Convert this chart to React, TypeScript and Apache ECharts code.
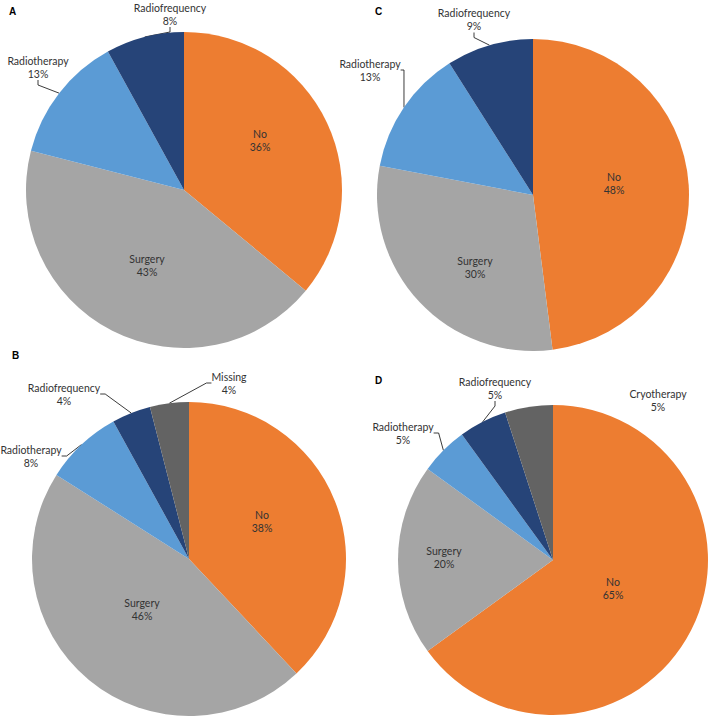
import { useEffect, useRef } from "react";
import * as echarts from "echarts";

// ---- Data (percentages) ----
const categoriesA = ["No", "Surgery", "Radiotherapy", "Radiofrequency"];
const valuesA = [36, 43, 13, 8];

const categoriesB = ["No", "Surgery", "Radiotherapy", "Radiofrequency", "Missing"];
const valuesB = [38, 46, 8, 4, 4];

const categoriesC = ["No", "Surgery", "Radiotherapy", "Radiofrequency"];
const valuesC = [48, 30, 13, 9];

const categoriesD = ["No", "Surgery", "Radiotherapy", "Radiofrequency", "Cryotherapy"];
const valuesD = [65, 20, 5, 5, 5];

const insideCategories = ["No", "Surgery"];

// ---- Styling / layout ----
const sliceColors: Record<string, string> = {
  No: "#ED7D31",
  Surgery: "#A5A5A5",
  Radiotherapy: "#5B9BD5",
  Radiofrequency: "#264478",
  Missing: "#636363",
  Cryotherapy: "#636363",
};

type Panel = {
  letter: string;
  cats: string[];
  vals: number[];
  center: [number, number];
  radius: number;
  letterPos: [number, number];
  labelPos: [number, number][];
  hideLine: string[];
};

const panels: Panel[] = [
  {
    letter: "A",
    cats: categoriesA,
    vals: valuesA,
    center: [184, 190],
    radius: 158,
    letterPos: [9, 12],
    labelPos: [[260, 140], [147, 265], [38, 67], [170, 14]],
    hideLine: [],
  },
  {
    letter: "C",
    cats: categoriesC,
    vals: valuesC,
    center: [533, 195],
    radius: 156,
    letterPos: [375, 12],
    labelPos: [[614, 183], [475, 267], [370, 70], [474, 19.5]],
    hideLine: [],
  },
  {
    letter: "B",
    cats: categoriesB,
    vals: valuesB,
    center: [189, 559],
    radius: 157,
    letterPos: [12, 356],
    labelPos: [[262, 521], [142, 609], [31, 456], [64, 394], [229, 383]],
    hideLine: [],
  },
  {
    letter: "D",
    cats: categoriesD,
    vals: valuesD,
    center: [553, 560],
    radius: 155,
    letterPos: [375, 381],
    labelPos: [[613, 588], [444, 557], [403, 433], [495, 388], [658, 400]],
    hideLine: ["Cryotherapy"],
  },
];

const FONT = "Lato, 'Open Sans', sans-serif";

function buildSeries(p: Panel) {
  return {
    type: "pie",
    name: p.letter,
    center: p.center,
    radius: p.radius,
    startAngle: 90,
    clockwise: true,
    avoidLabelOverlap: false,
    silent: true,
    percentPrecision: 0,
    itemStyle: { borderWidth: 0 },
    label: {
      show: true,
      position: "outside",
      formatter: "{b}\n{d}%",
      fontFamily: FONT,
      fontSize: 10.5,
      lineHeight: 13,
      color: "#333333",
    },
    labelLine: {
      show: true,
      length: 8,
      length2: 5,
      smooth: false,
      lineStyle: { color: "#262626", width: 0.9 },
    },
    labelLayout: (params: any) => {
      const pos = p.labelPos[params.dataIndex];
      return { x: pos[0], y: pos[1], align: "center", verticalAlign: "middle" };
    },
    data: p.cats.map((c, i) => {
      const inside = insideCategories.includes(c);
      return {
        name: c,
        value: p.vals[i],
        itemStyle: { color: sliceColors[c] },
        label: inside ? { position: "inside" } : undefined,
        labelLine: inside || p.hideLine.includes(c) ? { show: false } : undefined,
      };
    }),
  };
}

export default function App() {
  const ref = useRef<HTMLDivElement>(null);
  useEffect(() => {
    if (!ref.current) return;
    document.body.style.margin = "0";
    const chart = echarts.init(ref.current, null, { renderer: "svg" });
    chart.setOption({
      animation: false,
      backgroundColor: "#ffffff",
      tooltip: { show: false },
      graphic: panels.map((p) => ({
        type: "text",
        left: p.letterPos[0],
        top: p.letterPos[1] - 6,
        style: {
          text: p.letter,
          font: "bold 10px 'Liberation Sans', Arial, sans-serif",
          fill: "#000000",
        },
      })),
      series: panels.map(buildSeries),
    });
    return () => chart.dispose();
  }, []);
  return (
    <div
      ref={ref}
      style={{ position: "absolute", left: 0, top: 0, width: 709, height: 717, background: "#fff" }}
    />
  );
}
